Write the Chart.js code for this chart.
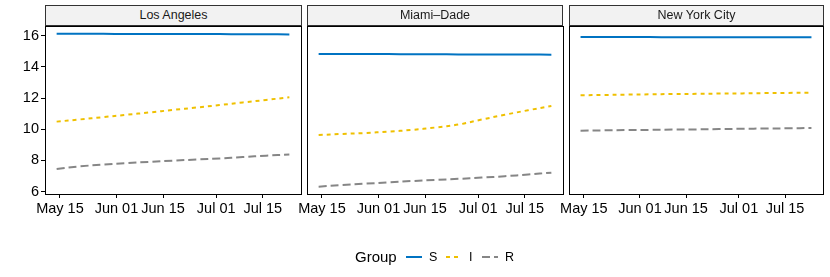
<!DOCTYPE html>
<html>
<head>
<meta charset="utf-8">
<script src="https://cdn.jsdelivr.net/npm/chart.js@4.4.1/dist/chart.umd.min.js"></script>
<style>
  body { margin: 0; background: #fff; font-family: "Liberation Sans", Arial, sans-serif; }
  #wrap { position: relative; width: 830px; height: 277px; overflow: hidden; }
  canvas { position: absolute; top: 0; }
  .strip {
    position: absolute; top: 5px; height: 21px; box-sizing: border-box;
    background: #f2f2f2; border: 1px solid #333; color: #1a1a1a;
    font-size: 12.5px; line-height: 19px; text-align: center;
  }
  .leg { position: absolute; color: #000; white-space: nowrap; }
</style>
</head>
<body>
<div id="wrap">
  <canvas id="c0" width="306" height="230" style="left:0px"></canvas>
  <canvas id="c1" width="275" height="230" style="left:295px"></canvas>
  <canvas id="c2" width="275" height="230" style="left:555px"></canvas>

  <div class="strip" style="left:45px;width:257px">Los Angeles</div>
  <div class="strip" style="left:307px;width:256px">Miami–Dade</div>
  <div class="strip" style="left:569px;width:255px">New York City</div>

  <!-- legend -->
  <div class="leg" style="left:355px;top:248px;font-size:15px">Group</div>
  <svg class="leg" style="left:405px;top:252px" width="18" height="10"><line x1="1" y1="5" x2="17" y2="5" stroke="#0073C2" stroke-width="2"/></svg>
  <div class="leg" style="left:429px;top:250px;font-size:12.5px">S</div>
  <svg class="leg" style="left:445px;top:252px" width="18" height="10"><line x1="1" y1="5" x2="17" y2="5" stroke="#EFC000" stroke-width="2" stroke-dasharray="4 4"/></svg>
  <div class="leg" style="left:469px;top:250px;font-size:12.5px">I</div>
  <svg class="leg" style="left:481px;top:252px" width="18" height="10"><line x1="1" y1="5" x2="17" y2="5" stroke="#868686" stroke-width="2" stroke-dasharray="8 4"/></svg>
  <div class="leg" style="left:505px;top:250px;font-size:12.5px">R</div>
</div>

<script>
// weekly dates of the model output
const dates = ["2020-05-14", "2020-05-21", "2020-05-28", "2020-06-04", "2020-06-11", "2020-06-18",
               "2020-06-25", "2020-07-02", "2020-07-09", "2020-07-16", "2020-07-23"];

const regions = ["Los Angeles", "Miami-Dade", "New York City"];

// S, I, R per region
const laS = [16.12, 16.12, 16.12, 16.11, 16.11, 16.11, 16.10, 16.10, 16.09, 16.09, 16.08];
const laI = [10.49, 10.63, 10.78, 10.93, 11.08, 11.24, 11.39, 11.55, 11.72, 11.88, 12.05];
const laR = [7.46, 7.62, 7.74, 7.83, 7.91, 7.99, 8.06, 8.13, 8.22, 8.31, 8.38];

const miS = [14.83, 14.83, 14.82, 14.82, 14.81, 14.81, 14.80, 14.80, 14.79, 14.79, 14.78];
const miI = [9.63, 9.70, 9.76, 9.85, 9.96, 10.11, 10.30, 10.62, 10.93, 11.22, 11.49];
const miR = [6.32, 6.42, 6.51, 6.60, 6.68, 6.75, 6.82, 6.90, 6.99, 7.10, 7.22];

const nyS = [15.91, 15.91, 15.91, 15.91, 15.90, 15.90, 15.90, 15.90, 15.90, 15.90, 15.90];
const nyI = [12.18, 12.20, 12.22, 12.24, 12.26, 12.27, 12.29, 12.30, 12.32, 12.33, 12.35];
const nyR = [9.91, 9.93, 9.95, 9.96, 9.98, 9.99, 10.01, 10.03, 10.05, 10.06, 10.08];

const tickDates = ["2020-05-15", "2020-06-01", "2020-06-15", "2020-07-01", "2020-07-15"];
const tickLabels = ["May 15", "Jun 01", "Jun 15", "Jul 01", "Jul 15"];
const yTicks = [6, 8, 10, 12, 14, 16];

const groups = ["S", "I", "R"];
const colors = ["#0073C2", "#EFC000", "#868686"];
const dashes = [[], [4, 4], [8, 4]];

// days since May 15, used as the x value
const origin = Date.parse("2020-05-15");
const toDay = (d) => (Date.parse(d) - origin) / 86400000;
const xDays = dates.map(toDay);
const tickDays = tickDates.map(toDay);

// black frame around each panel
const framePlugin = {
    id: "frame",
    afterDraw(chart) {
        const a = chart.chartArea;
        const ctx = chart.ctx;
        ctx.save();
        ctx.strokeStyle = "#000";
        ctx.lineWidth = 1;
        ctx.strokeRect(Math.round(a.left) + 0.5, Math.round(a.top) + 0.5,
                       Math.round(a.right - a.left), Math.round(a.bottom - a.top));
        ctx.restore();
    }
};

function makePanel(id, series, showY, padLeft, padRight) {
    const ctx = document.getElementById(id).getContext("2d");
    const datasets = series.map((vals, i) => ({
        label: groups[i],
        data: vals.map((v, j) => ({ x: xDays[j], y: v })),
        borderColor: colors[i],
        borderWidth: 2,
        borderDash: dashes[i],
        pointRadius: 0,
        tension: 0.35,
        fill: false
    }));

    new Chart(ctx, {
        type: "line",
        data: { datasets },
        plugins: [framePlugin],
        options: {
            responsive: false,
            devicePixelRatio: 1,
            animation: false,
            layout: { padding: { top: 26, left: padLeft, right: padRight, bottom: 0 } },
            plugins: { legend: { display: false }, tooltip: { enabled: false } },
            scales: {
                x: {
                    type: "linear",
                    min: -4.5,
                    max: 72.5,
                    afterBuildTicks: (axis) => { axis.ticks = tickDays.map((v) => ({ value: v })); },
                    afterFit: (axis) => { axis.height = 36; },
                    ticks: {
                        autoSkip: false,
                        maxRotation: 0,
                        padding: 2,
                        color: "#000",
                        font: { family: "Liberation Sans", size: 14.5 },
                        callback: (v) => tickLabels[tickDays.indexOf(v)]
                    },
                    grid: { drawOnChartArea: false, tickLength: 4, color: "#000" },
                    border: { color: "#000" }
                },
                y: {
                    display: showY,
                    min: 5.85,
                    max: 16.62,
                    afterBuildTicks: (axis) => { axis.ticks = yTicks.map((v) => ({ value: v })); },
                    afterFit: (axis) => { axis.width = showY ? 45 : 0; },
                    ticks: {
                        padding: 2,
                        color: "#000",
                        font: { family: "Liberation Sans", size: 14.5 }
                    },
                    grid: { drawOnChartArea: false, tickLength: 4, color: "#000" },
                    border: { color: "#000" }
                }
            }
        }
    });
}

makePanel("c0", [laS, laI, laR], true, 0, 5);
makePanel("c1", [miS, miI, miR], false, 12, 7);
makePanel("c2", [nyS, nyI, nyR], false, 14, 7);
</script>
</body>
</html>
